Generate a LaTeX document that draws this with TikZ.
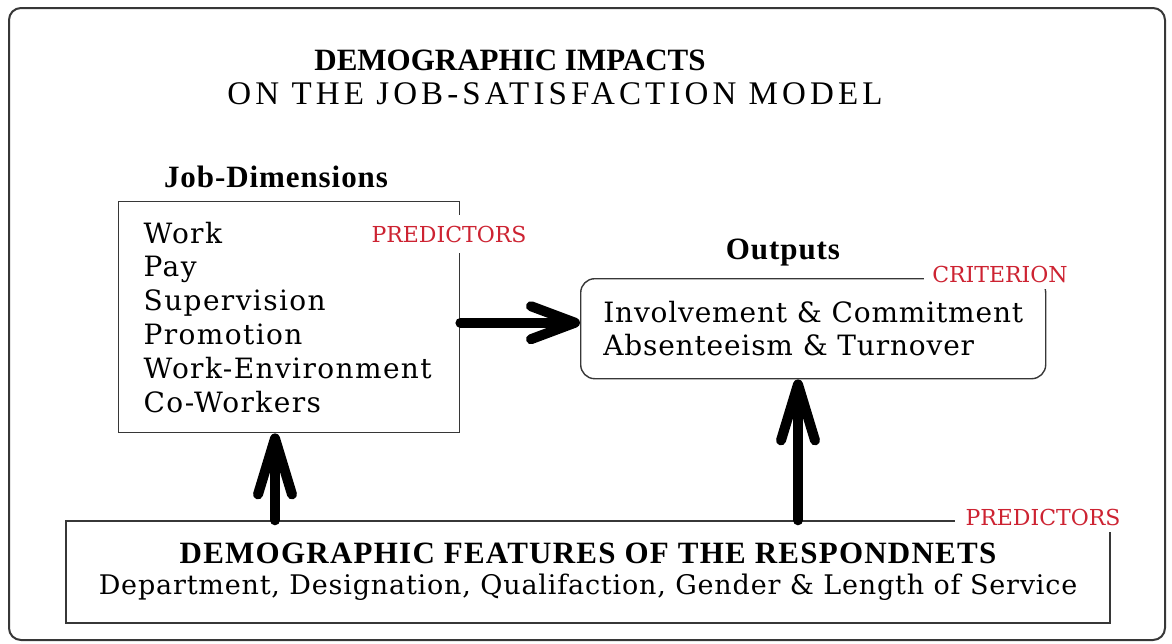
\documentclass[tikz,border=0pt]{standalone}
\usepackage{fontspec}
\setmainfont{Liberation Serif}
\newfontfamily\slabfont{DejaVu Serif}
\usetikzlibrary{arrows.meta,positioning}
\definecolor{framegray}{RGB}{55,55,55}
\definecolor{tagred}{RGB}{205,35,50}

\begin{document}
\begin{tikzpicture}[x=1pt, y=-1pt,
  box/.style={draw=framegray, line width=1.4pt, fill=white},
  items/.style={font=\slabfont\addfontfeatures{LetterSpace=5}\fontsize{28}{33.8}\selectfont, align=left},
  outitems/.style={font=\slabfont\addfontfeatures{LetterSpace=3}\fontsize{28}{33}\selectfont, align=left},
  head/.style={font=\bfseries\addfontfeatures{LetterSpace=3}\fontsize{31}{34}\selectfont},
  tag/.style={font=\slabfont\fontsize{22}{24}\selectfont, text=tagred,
    fill=white, inner xsep=8pt, inner ysep=7pt},
  bigarr/.style={line width=10pt, line cap=round,
    -{Straight Barb[length=44pt, width=33pt, round]}},
  uparr/.style={bigarr, -{Straight Barb[length=56pt, width=34pt, round]}}
]
\useasboundingbox (0,0) rectangle (1172,643);
% outer frame
\draw[framegray, line width=2pt, rounded corners=12pt] (9,8) rectangle (1165,640);

% title
\node[font=\bfseries\fontsize{31}{36}\selectfont] (title) at (510,60) {DEMOGRAPHIC IMPACTS};
\node[font=\addfontfeatures{LetterSpace=12.5}\fontsize{33}{36}\selectfont] (subtitle) at (555,94)
  {ON THE JOB-SATISFACTION MODEL};

% job dimensions
\node[box, items, anchor=north west, text width=291pt, inner xsep=25pt,
  minimum height=231pt] (jobs) at (118,201)
  {Work\\Pay\\Supervision\\Promotion\\Work-Environment\\Co-Workers};
\node[head] (jobhead) at (276,177) {Job-Dimensions};
\node[tag, inner ysep=11pt] (jobtag) at (449,234) {PREDICTORS};

% outputs
\node[box, outitems, rounded corners=14pt, anchor=north west,
  minimum width=465pt, minimum height=100pt] (outputs) at (580,278)
  {Involvement \& Commitment\\Absenteeism \& Turnover};
\node[head] (outhead) at (783,253) {Outputs};
\node[tag] (outtag) at (1000,274) {CRITERION};

% demographic features
\node[box, align=center, minimum width=1044pt, minimum height=102pt] (demo) at (588,572)
  {{\bfseries\addfontfeatures{LetterSpace=4}\fontsize{31}{32}\selectfont DEMOGRAPHIC FEATURES OF THE RESPONDNETS}\\[9pt]
   {\slabfont\addfontfeatures{LetterSpace=3}\fontsize{27}{30}\selectfont Department, Designation, Qualifaction, Gender \& Length of Service}};
\node[tag, inner xsep=11pt] (demotag) at (1043,517) {PREDICTORS};

% arrows
\coordinate (midjob) at ([yshift=-5.5pt]jobs.east);
\coordinate (leftx) at (275,0);
\coordinate (rightx) at (798,0);
\draw[bigarr] (midjob) -- (midjob -| outputs.west);
\draw[uparr] (demo.north -| leftx) -- (jobs.south -| leftx);
\draw[uparr] (demo.north -| rightx) -- (outputs.south -| rightx);
\end{tikzpicture}
\end{document}
